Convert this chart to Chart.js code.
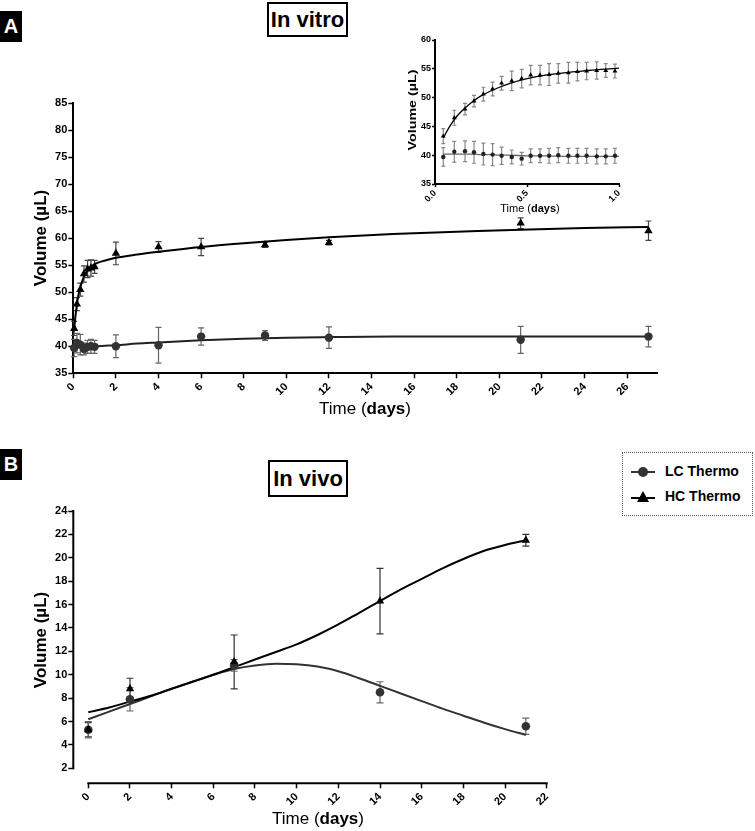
<!DOCTYPE html>
<html>
<head>
    <meta charset="UTF-8">
    <title>Volume over time</title>
    <script src="https://cdn.jsdelivr.net/npm/chart.js"></script>
    <style>
        body { margin: 0; background: #fff; font-family: "Liberation Sans", Arial, sans-serif; }
        #page { position: relative; width: 755px; height: 831px; overflow: hidden; }
        canvas { position: absolute; }
        .panel { position: absolute; left: 0; width: 22px; height: 31px; background: #000; color: #fff;
                 font-weight: bold; font-size: 20px; line-height: 31px; text-align: center; }
        .title { position: absolute; border: 2px solid #000; font-weight: bold; font-size: 22px;
                 text-align: center; box-sizing: border-box; }
        .ylab { position: absolute; font-weight: bold; white-space: nowrap; transform-origin: center center; }
        .xlab { position: absolute; white-space: nowrap; text-align: center; }
        #legend { position: absolute; left: 622px; top: 452px; width: 131px; height: 64px;
                  border: 1px dotted #555; box-sizing: border-box; font-weight: bold; font-size: 14px; }
        #legend div { position: absolute; left: 8px; height: 16px; line-height: 16px; }
        #legend svg { vertical-align: middle; margin-right: 10px; }
    </style>
</head>
<body>
<div id="page">
    <div class="panel" style="top:11px;">A</div>
    <div class="panel" style="top:449px;">B</div>
    <div class="title" style="left:267px;top:2px;width:81px;height:35px;line-height:31px;">In vitro</div>
    <div class="title" style="left:268px;top:460px;width:80px;height:37px;line-height:33px;">In vivo</div>

    <canvas id="chartA" width="680" height="345" style="left:0;top:90px;"></canvas>
    <canvas id="chartInset" width="260" height="190" style="left:380px;top:30px;"></canvas>
    <canvas id="chartB" width="600" height="331" style="left:0;top:500px;"></canvas>

    <div class="ylab" style="font-size:17px;left:-9px;top:228px;width:100px;text-align:center;transform:rotate(-90deg);">Volume (µL)</div>
    <div class="xlab" style="font-size:17px;left:265px;top:399px;width:200px;">Time (<b>days</b>)</div>

    <div class="ylab" style="font-size:11px;left:372px;top:104px;width:80px;text-align:center;transform:rotate(-90deg) scaleX(1.3);">Volume (µL)</div>
    <div class="xlab" style="font-size:11px;left:480px;top:202px;width:100px;">Time (<b>days</b>)</div>

    <div class="ylab" style="font-size:17px;left:-9px;top:630px;width:100px;text-align:center;transform:rotate(-90deg);">Volume (µL)</div>
    <div class="xlab" style="font-size:17px;left:218px;top:809px;width:200px;">Time (<b>days</b>)</div>

    <div id="legend">
        <div style="top:10px;"><svg width="24" height="12"><line x1="0" y1="6" x2="24" y2="6" stroke="#333" stroke-width="2"/><circle cx="12" cy="6" r="5" fill="#333"/></svg>LC Thermo</div>
        <div style="top:35px;"><svg width="24" height="12"><line x1="0" y1="7" x2="24" y2="7" stroke="#000" stroke-width="2"/><polygon points="12,0 18,11 6,11" fill="#000"/></svg>HC Thermo</div>
    </div>
</div>

<script>
    // ---- In vitro, main panel ----
    var vitroDays = [0.04, 0.17, 0.33, 0.5, 0.67, 0.83, 1.0, 2, 4, 6, 9, 12, 21, 27];
    var vitroHC = [43.3, 47.8, 50.5, 53.4, 54.3, 54.5, 54.7, 57.2, 58.4, 58.4, 58.8, 59.2, 62.8, 61.4];
    var vitroHCerr = [1.3, 1.2, 1.2, 1.5, 1.6, 1.5, 1.2, 2.1, 1.0, 1.6, 0.5, 0.4, 1.0, 1.8];
    var vitroLC = [39.7, 40.6, 40.3, 39.5, 39.9, 40.0, 39.9, 40.0, 40.2, 41.8, 42.0, 41.6, 41.2, 41.8];
    var vitroLCerr = [1.6, 1.8, 1.9, 1.1, 1.2, 1.3, 1.2, 2.1, 3.3, 1.6, 0.9, 2.0, 2.5, 1.9];

    var vitroFitDays = [0.04, 0.1, 0.2, 0.3, 0.5, 0.75, 1, 1.5, 2, 3, 4, 6, 8, 10, 12, 15, 18, 21, 24, 27];
    var vitroHCfit = [43.0, 45.6, 48.6, 50.5, 52.9, 54.4, 55.2, 55.9, 56.4, 57.0, 57.5, 58.4, 59.1, 59.7, 60.2, 60.8, 61.2, 61.6, 61.9, 62.1];
    var vitroLCfit = [39.9, 39.9, 39.9, 39.9, 39.95, 40.0, 40.0, 40.1, 40.2, 40.5, 40.7, 41.1, 41.4, 41.6, 41.7, 41.8, 41.8, 41.8, 41.8, 41.8];

    var vitroXTicks = [0, 2, 4, 6, 8, 10, 12, 14, 16, 18, 20, 22, 24, 26];
    var vitroYTicks = [35, 40, 45, 50, 55, 60, 65, 70, 75, 80, 85];

    // ---- In vitro, first day inset ----
    var insetDays = [0.045, 0.105, 0.163, 0.212, 0.263, 0.313, 0.362, 0.417, 0.471, 0.520, 0.571, 0.620, 0.670, 0.725, 0.774, 0.824, 0.879, 0.928, 0.978];
    var insetHC = [43.3, 46.5, 48.0, 49.4, 50.6, 51.5, 52.5, 52.9, 53.3, 53.9, 53.9, 54.0, 54.2, 54.3, 54.5, 54.6, 54.7, 54.7, 54.6];
    var insetHCerr = [1.3, 1.3, 1.0, 1.0, 1.2, 1.2, 1.2, 1.7, 1.6, 1.7, 1.7, 1.9, 1.7, 1.8, 1.6, 1.5, 1.5, 1.2, 1.2];
    var insetLC = [39.7, 40.6, 40.7, 40.5, 40.2, 40.1, 39.9, 39.7, 39.4, 39.9, 39.9, 39.9, 40.0, 39.9, 39.9, 39.9, 39.8, 39.8, 39.9];
    var insetLCerr = [1.6, 1.8, 1.8, 1.9, 1.9, 1.9, 1.5, 1.2, 1.1, 1.2, 1.2, 1.3, 1.3, 1.3, 1.3, 1.3, 1.3, 1.3, 1.3];

    var insetFitDays = [0.045, 0.08, 0.12, 0.16, 0.2, 0.25, 0.3, 0.35, 0.4, 0.5, 0.6, 0.7, 0.8, 0.9, 1.0];
    var insetHCfit = [43.0, 45.0, 46.8, 48.1, 49.2, 50.3, 51.1, 51.8, 52.4, 53.3, 53.9, 54.3, 54.6, 54.9, 55.1];
    var insetLCfit = [40.2, 40.2, 40.2, 40.2, 40.2, 40.1, 40.1, 40.0, 40.0, 39.9, 39.9, 39.8, 39.8, 39.8, 39.8];

    var insetXTicks = [0, 0.5, 1.0];
    var insetYTicks = [35, 40, 45, 50, 55, 60];

    // ---- In vivo ----
    var vivoDays = [0, 2, 7, 14, 21];
    var vivoLC = [5.3, 7.9, 10.8, 8.5, 5.6];
    var vivoLCerr = [0.7, 1.0, 0.5, 0.9, 0.7];
    var vivoHC = [5.3, 8.8, 11.1, 16.3, 21.5];
    var vivoHCerr = [0.6, 0.9, 2.3, 2.8, 0.5];

    var vivoFitDays = [0, 1, 2, 3, 4, 5, 6, 7, 8, 9, 10, 11, 12, 13, 14, 15, 16, 17, 18, 19, 20, 21];
    var vivoHCfit = [6.8, 7.2, 7.7, 8.2, 8.8, 9.4, 10.0, 10.65, 11.3, 11.95, 12.6, 13.4, 14.3, 15.3, 16.3, 17.3, 18.2, 19.1, 19.9, 20.6, 21.1, 21.5];
    var vivoLCfit = [6.2, 6.85, 7.5, 8.15, 8.8, 9.4, 10.0, 10.5, 10.8, 10.95, 10.9, 10.7, 10.3, 9.7, 9.05, 8.4, 7.75, 7.1, 6.5, 5.9, 5.35, 4.85];

    var vivoXTicks = [0, 2, 4, 6, 8, 10, 12, 14, 16, 18, 20, 22];
    var vivoYTicks = [2, 4, 6, 8, 10, 12, 14, 16, 18, 20, 22, 24];

    Chart.defaults.font.family = '"Liberation Sans", Arial, sans-serif';
    Chart.defaults.color = '#000';

    function pts(xs, ys) {
        return xs.map(function (x, i) { return { x: x, y: ys[i] }; });
    }

    // vertical error bars with caps, drawn under the markers
    var errorBarPlugin = {
        id: 'errorBars',
        beforeDatasetsDraw: function (chart) {
            var ctx = chart.ctx, xs = chart.scales.x, ys = chart.scales.y;
            chart.data.datasets.forEach(function (ds) {
                if (!ds.errors) return;
                ctx.save();
                ctx.strokeStyle = ds.errorColor;
                ctx.lineWidth = ds.errorWidth || 1.2;
                ds.data.forEach(function (p, j) {
                    var e = ds.errors[j];
                    var px = xs.getPixelForValue(p.x);
                    var top = ys.getPixelForValue(p.y + e), bot = ys.getPixelForValue(p.y - e);
                    ctx.beginPath();
                    ctx.moveTo(px, top); ctx.lineTo(px, bot);
                    ctx.moveTo(px - ds.cap, top); ctx.lineTo(px + ds.cap, top);
                    ctx.moveTo(px - ds.cap, bot); ctx.lineTo(px + ds.cap, bot);
                    ctx.stroke();
                });
                ctx.restore();
            });
        }
    };

    // axis lines that only span a tick range (offset axes in panel B)
    var axisLinePlugin = {
        id: 'axisLines',
        afterDraw: function (chart, args, opts) {
            if (!opts.x) return;
            var ctx = chart.ctx, xs = chart.scales.x, ys = chart.scales.y;
            ctx.save();
            ctx.strokeStyle = '#000';
            ctx.lineWidth = 2;
            ctx.beginPath();
            ctx.moveTo(xs.getPixelForValue(opts.x[0]) - 1, chart.chartArea.bottom);
            ctx.lineTo(xs.getPixelForValue(opts.x[1]) + 1, chart.chartArea.bottom);
            ctx.moveTo(chart.chartArea.left, ys.getPixelForValue(opts.y[0]) + 1);
            ctx.lineTo(chart.chartArea.left, ys.getPixelForValue(opts.y[1]) - 1);
            ctx.stroke();
            ctx.restore();
        }
    };

    function axis(o) {
        return {
            type: 'linear',
            min: o.min, max: o.max,
            afterBuildTicks: function (scale) { scale.ticks = o.ticks.map(function (v) { return { value: v }; }); },
            afterFit: function (scale) {
                if (o.width) scale.width = o.width;
                if (o.height) scale.height = o.height;
            },
            border: { display: o.border !== false, color: '#000', width: 2 },
            grid: { drawOnChartArea: false, drawTicks: true, tickLength: o.tick || 5, tickWidth: 1.5, tickColor: '#000' },
            ticks: {
                font: { size: o.font, weight: 'bold' },
                padding: o.pad === undefined ? 1 : o.pad,
                minRotation: o.rot || 0, maxRotation: o.rot || 0,
                autoSkip: false,
                callback: o.fmt || function (v) { return v; }
            }
        };
    }

    function pointSet(label, data, errs, style, r, color, errColor, cap) {
        return {
            label: label, data: data, errors: errs, errorColor: errColor, cap: cap,
            pointStyle: style, pointRadius: r, pointHoverRadius: r,
            backgroundColor: color, borderColor: color, borderWidth: 0,
            showLine: false, clip: false, order: 0
        };
    }

    function fitSet(data, color, width) {
        return {
            data: data, showLine: true, pointRadius: 0, borderColor: color, borderWidth: width,
            cubicInterpolationMode: 'monotone', clip: false, order: 1
        };
    }

    function baseOptions(padding, xAxis, yAxis, extra) {
        return {
            responsive: false,
            animation: false,
            layout: { padding: padding },
            plugins: Object.assign({ legend: { display: false }, tooltip: { enabled: false } }, extra || {}),
            scales: { x: xAxis, y: yAxis }
        };
    }

    // panel A
    new Chart(document.getElementById('chartA'), {
        type: 'scatter',
        data: {
            datasets: [
                pointSet('HC Thermo', pts(vitroDays, vitroHC), vitroHCerr, 'triangle', 4.8, '#000', '#444', 3),
                pointSet('LC Thermo', pts(vitroDays, vitroLC), vitroLCerr, 'circle', 4.2, '#333', '#666', 3),
                fitSet(pts(vitroFitDays, vitroHCfit), '#000', 2),
                fitSet(pts(vitroFitDays, vitroLCfit), '#222', 2)
            ]
        },
        options: baseOptions({ top: 13.3, right: 23, left: 0, bottom: 0 },
            axis({ min: 0, max: 27.4, ticks: vitroXTicks, font: 11, rot: 45, height: 61.7, pad: 2 }),
            axis({ min: 35, max: 85, ticks: vitroYTicks, font: 11, width: 73.3 })),
        plugins: [errorBarPlugin]
    });

    // inset
    new Chart(document.getElementById('chartInset'), {
        type: 'scatter',
        data: {
            datasets: [
                pointSet('HC Thermo', pts(insetDays, insetHC), insetHCerr, 'triangle', 2.8, '#000', '#888', 2),
                pointSet('LC Thermo', pts(insetDays, insetLC), insetLCerr, 'circle', 2.2, '#222', '#888', 2),
                fitSet(pts(insetFitDays, insetHCfit), '#000', 1.3),
                fitSet(pts(insetFitDays, insetLCfit), '#666', 1.3)
            ]
        },
        options: baseOptions({ top: 10, right: 21, left: 0, bottom: 0 },
            axis({ min: 0, max: 1, ticks: insetXTicks, font: 9, rot: 45, height: 36, tick: 3, pad: 1,
                   fmt: function (v) { return v.toFixed(1); } }),
            axis({ min: 35, max: 60, ticks: insetYTicks, font: 9, width: 55, tick: 3 })),
        plugins: [errorBarPlugin]
    });

    // panel B
    new Chart(document.getElementById('chartB'), {
        type: 'scatter',
        data: {
            datasets: [
                pointSet('HC Thermo', pts(vivoDays, vivoHC), vivoHCerr, 'triangle', 4.8, '#000', '#333', 3.5),
                pointSet('LC Thermo', pts(vivoDays, vivoLC), vivoLCerr, 'circle', 4.3, '#333', '#666', 3.5),
                fitSet(pts(vivoFitDays, vivoHCfit), '#000', 2),
                fitSet(pts(vivoFitDays, vivoLCfit), '#333', 2)
            ]
        },
        options: baseOptions({ top: 11, right: 53.3, left: 0, bottom: 0 },
            axis({ min: -0.72, max: 22, ticks: vivoXTicks, font: 11, rot: 45, height: 47.7, border: false, pad: 2 }),
            axis({ min: 0.72, max: 24, ticks: vivoYTicks, font: 11, width: 73.3, border: false }),
            { axisLines: { x: [0, 22], y: [2, 24] } }),
        plugins: [errorBarPlugin, axisLinePlugin]
    });
</script>
</body>
</html>
